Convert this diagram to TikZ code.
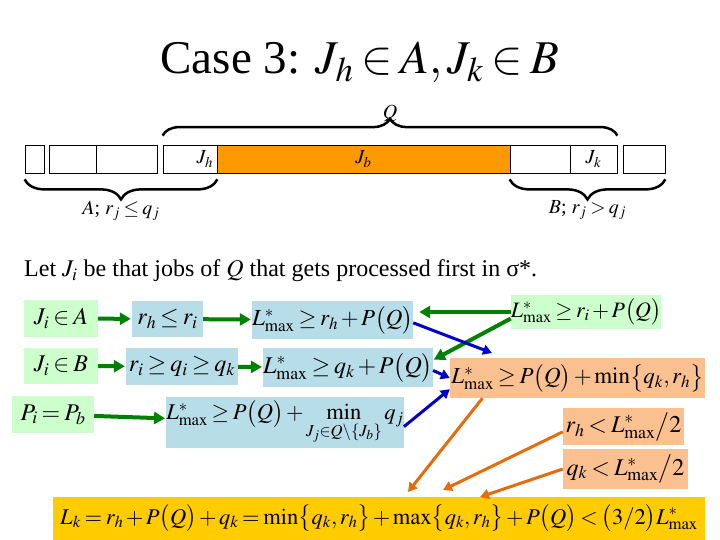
\documentclass[tikz,border=0pt]{standalone}
\usepackage{mathptmx}
\usepackage{fontspec}
\setmainfont{Liberation Serif}
\usetikzlibrary{arrows.meta, decorations.pathreplacing}

\definecolor{boxgreen}{RGB}{204,255,204}
\definecolor{boxblue}{RGB}{183,221,232}
\definecolor{boxorange}{RGB}{251,192,143}
\definecolor{boxyellow}{RGB}{255,204,0}
\definecolor{cellorange}{RGB}{255,153,0}
\definecolor{arrowgreen}{RGB}{0,128,0}
\definecolor{arrowblue}{RGB}{0,0,204}
\definecolor{arroworange}{RGB}{228,108,10}

\newcommand{\Lstar}{L^{*}_{\max}}
\thickmuskip=3mu plus 2mu
\medmuskip=2mu plus 1mu

\begin{document}
\begin{tikzpicture}[
    x=1pt, y=-1pt,
    every node/.style={font=\fontsize{24}{26}\selectfont, inner sep=0pt},
    cell/.style={draw, thick, minimum height=28pt, font=\fontsize{20}{22}\selectfont},
    greenbox/.style={fill=boxgreen},
    bluebox/.style={fill=boxblue},
    orangebox/.style={fill=boxorange},
    garrow/.style={draw=arrowgreen, line width=4pt, -{Triangle[length=11pt, width=12pt]}, shorten >=1pt},
    barrow/.style={draw=arrowblue, line width=3pt, -{Triangle[length=9pt, width=10pt]}},
    oarrow/.style={draw=arroworange, line width=3pt, -{Triangle[length=9pt, width=10pt]}},
    brace/.style={decorate, line width=2.5pt}
]
\useasboundingbox (0,0) rectangle (720,540);

% Title
\node[font=\fontsize{47}{50}\selectfont] (title) at (360,62) {Case 3: $J_h \in A, J_k \in B$};

% Job sequence
\node[cell, minimum width=19pt] (c1) at (34.5,159) {};
\node[cell, minimum width=47pt] (c2) at (72.5,159) {};
\node[cell, minimum width=61pt] (c3) at (126.5,159) {};
\node[cell, minimum width=54pt, text width=46pt, align=right, inner xsep=4pt] (jh) at (190,159) {$J_h$};
\node[cell, fill=cellorange, minimum width=293pt] (jb) at (363.5,159) {$J_b$};
\node[cell, minimum width=60pt] (c6) at (540,159) {};
\node[cell, minimum width=47pt] (jk) at (593.5,159) {$J_k$};
\node[cell, minimum width=42pt] (c8) at (644,159) {};

% Braces
\draw[brace, decoration={brace, amplitude=17pt}] (jh.north west) ++(0,-9) coordinate (qa) -- node[above=12pt, font=\fontsize{20}{22}\selectfont] (qlab) {$Q$} (jk.north east |- qa);
\draw[brace, decoration={brace, amplitude=20pt, mirror}] (c1.south west) ++(0,6) coordinate (aa) -- node[below=20pt, font=\fontsize{20}{22}\selectfont] (alab) {$A$; $r_j \le q_j$} (jh.south east |- aa);
\draw[brace, decoration={brace, amplitude=20pt, mirror}] (c6.south west) ++(0,6) coordinate (ba) -- node[below=20pt, font=\fontsize{20}{22}\selectfont] (blab) {$B$; $r_j > q_j$} (c8.south east |- ba);

% Statement
\node[anchor=west, font=\fontsize{24}{26}\selectfont] (stmt) at (24,271) {Let $J_i$ be that jobs of $Q$ that gets processed first in σ*.};

% Left chains
\node[greenbox, minimum width=74pt, minimum height=37pt] (inA) at (61,318.5) {$J_i \in A$};
\node[bluebox, minimum width=71pt, minimum height=36pt] (rh) at (167.5,319) {$r_h \le r_i$};
\node[bluebox, minimum width=161pt, minimum height=38pt, font=\fontsize{23}{25}\selectfont] (lrh) at (332.5,320) {$\Lstar \ge r_h + P\bigl(Q\bigr)$};

\node[greenbox, minimum width=74pt, minimum height=36pt] (inB) at (61,366) {$J_i \in B$};
\node[bluebox, minimum width=112pt, minimum height=37pt] (ri) at (182,366.5) {$r_i \ge q_i \ge q_k$};
\node[bluebox, minimum width=168pt, minimum height=39pt] (lqk) at (348,367.5) {$\Lstar \ge q_k + P\bigl(Q\bigr)$};

\node[greenbox, minimum width=82pt, minimum height=37pt] (pb) at (53,414.5) {$P_i = P_b$};
\node[bluebox, minimum width=234pt, minimum height=51pt, font=\fontsize{22.5}{25}\selectfont] (lmin) at (285,422.5) {$\Lstar \ge P\bigl(Q\bigr) + \min\limits_{J_j \in Q\setminus\{J_b\}} q_j$};

% Right side
\node[greenbox, minimum width=146pt, minimum height=34pt, font=\fontsize{22}{24}\selectfont] (lri) at (586,312) {$\Lstar \ge r_i + P\bigl(Q\bigr)$};
\node[orangebox, minimum width=255pt, minimum height=40pt, font=\fontsize{23}{25}\selectfont] (lqr) at (577.5,378) {$\Lstar \ge P\bigl(Q\bigr) + \min\bigl\{q_k, r_h\bigr\}$};
\node[orangebox, minimum width=121pt, minimum height=37pt] (hrh) at (623.5,426.5) {$r_h < \Lstar\big/2$};
\node[orangebox, minimum width=125pt, minimum height=40pt] (hqk) at (625.5,469) {$q_k < \Lstar\big/2$};

% Result
\node[fill=boxyellow, minimum width=652pt, minimum height=43pt, font=\fontsize{22.5}{25}\selectfont] (res) at (379,518.5) {$L_k = r_h + P\bigl(Q\bigr) + q_k = \min\bigl\{q_k, r_h\bigr\} + \max\bigl\{q_k, r_h\bigr\} + P\bigl(Q\bigr) < \bigl(3/2\bigr)\Lstar$};

\coordinate (bend) at (492,353);
\coordinate (o1) at (408,492);
\coordinate (o2) at (443,490);
\coordinate (o3) at (480,497);

% Green arrows
\draw[garrow] (inA) -- (rh);
\draw[garrow] (rh) -- (lrh);
\draw[garrow] (inB) -- (ri);
\draw[garrow] (ri) -- (lqk);
\draw[garrow] (pb) -- (lmin);
\draw[garrow, shorten >=6pt] (lri.west) -- (lrh.east |- lri.west);
\draw[garrow] (lri.185) -- (lqk.5);

% Blue arrows
\draw[barrow] (lrh.-2) -- (bend);
\draw[barrow] (lqk.-2) -- (lqr.west);
\draw[barrow] (lmin.-2) -- (lqr.185);

% Orange arrows
\draw[oarrow] (lqr.192) -- (o1);
\draw[oarrow] (hrh.185) -- (o2);
\draw[oarrow] (hqk.west) -- (o3);

\end{tikzpicture}
\end{document}
